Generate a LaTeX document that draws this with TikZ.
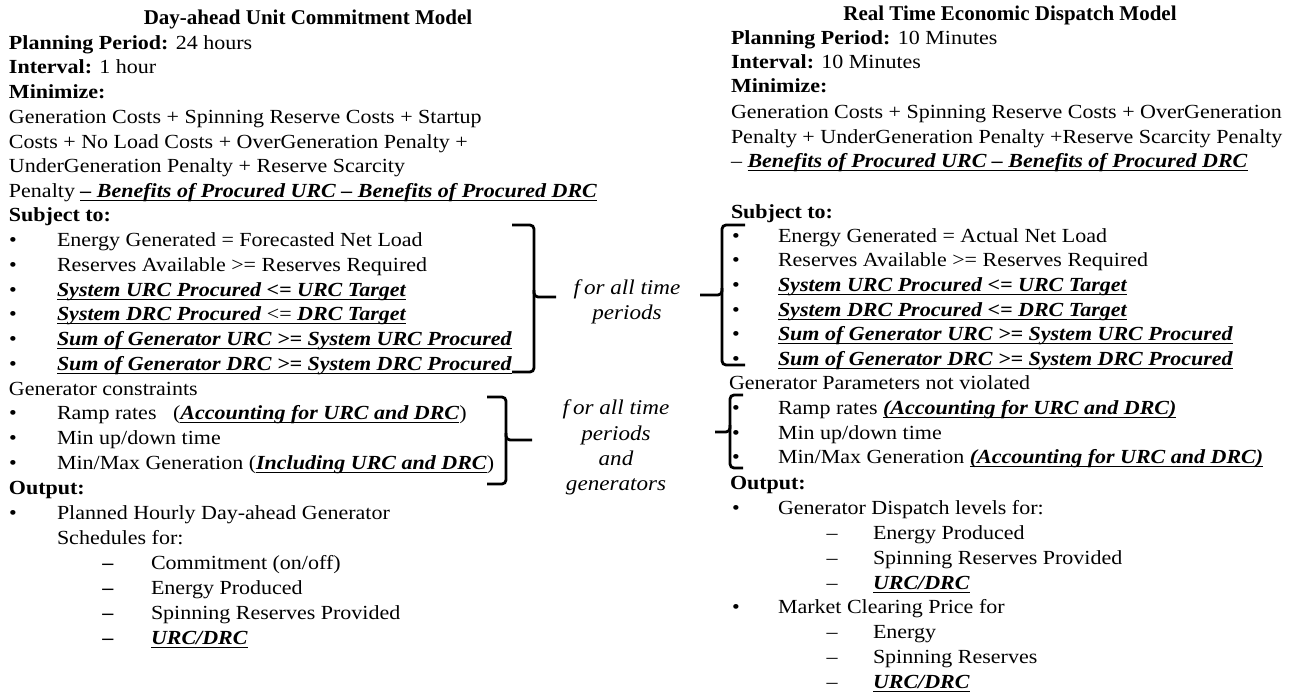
\documentclass[tikz,border=0pt]{standalone}
\usepackage{fontspec}
\setmainfont{Liberation Serif}[FakeStretch=1.1]
\newfontfamily\titlefont{Liberation Serif}
\newsavebox{\ulbox}
\newcommand{\ulx}[1]{\sbox{\ulbox}{#1}\leavevmode\hbox{\rlap{\rule[-3.8pt]{\wd\ulbox}{1.2pt}}\usebox{\ulbox}}}
\newcommand{\bi}[1]{\textbf{\textit{#1}}}
\newcommand{\bu}[1]{\ulx{\bi{#1}}}
\begin{document}
\begin{tikzpicture}[x=1pt,y=-1pt,
  every node/.style={inner sep=0pt,outer sep=0pt,yshift=-4pt},
  txt/.style={anchor=mid west,font=\fontsize{20}{24}\selectfont},
  ttl/.style={anchor=mid,font=\titlefont\bfseries\fontsize{21}{24}\selectfont},
  lbl/.style={anchor=mid,font=\fontsize{21}{24}\selectfont\itshape},
  dot/.style={anchor=mid,font=\fontsize{20}{24}\selectfont},
  brace/.style={line width=2.8pt,rounded corners=4pt}]
\useasboundingbox (0,0) rectangle (1298,693);

% ---------------- left column ----------------
\node[ttl] (lt) at (308,18) {Day-ahead Unit Commitment Model};
\node[txt] (l1) at (9,43) {\textbf{Planning Period:} 24 hours};
\node[txt] (l2) at (9,67) {\textbf{Interval:} 1 hour};
\node[txt] (l3) at (9,92) {\textbf{Minimize:}};
\node[txt] (l4) at (9,117) {Generation Costs + Spinning Reserve Costs + Startup};
\node[txt] (l5) at (9,142) {Costs + No Load Costs + OverGeneration Penalty +};
\node[txt] (l6) at (9,166) {UnderGeneration Penalty + Reserve Scarcity};
\node[txt] (l7) at (9,191) {Penalty \bu{– Benefits of Procured URC – Benefits of Procured DRC}};
\node[txt] (l8) at (9,215) {\textbf{Subject to:}};

\foreach \yy/\nm in {240/a,265/b,290/c,314/d,339/e,364/f,413/g,438/h,463/i,513/j}
  \node[dot] (lb\nm) at (13,\yy) {•};
\node[txt] (s1) at (57,240) {Energy Generated = Forecasted Net Load};
\node[txt] (s2) at (57,265) {Reserves Available >= Reserves Required};
\node[txt] (s3) at (57,290) {\bu{System URC Procured <= URC Target}};
\node[txt] (s4) at (57,314) {\ulx{\bi{System DRC Procured} <= \bi{DRC Target}}};
\node[txt] (s5) at (57,339) {\bu{Sum of Generator URC >= System URC Procured}};
\node[txt] (s6) at (57,364) {\bu{Sum of Generator DRC >= System DRC Procured}};
\node[txt] (l9) at (9,389) {Generator constraints};
\node[txt] (g1) at (57,413) {Ramp rates~~~(\bu{Accounting for URC and DRC})};
\node[txt] (g2) at (57,438) {Min up/down time};
\node[txt] (g3) at (57,463) {Min/Max Generation (\bu{Including URC and DRC})};
\node[txt] (l10) at (9,488) {\textbf{Output:}};
\node[txt] (o1) at (57,513) {Planned Hourly Day-ahead Generator};
\node[txt] (o2) at (57,538) {Schedules for:};
\foreach \yy/\nm in {563/a,588/b,613/c,638/d}
  \node[dot] (ld\nm) at (108,\yy) {\textbf{–}};
\node[txt] (o3) at (151,563) {Commitment (on/off)};
\node[txt] (o4) at (151,588) {Energy Produced};
\node[txt] (o5) at (151,613) {Spinning Reserves Provided};
\node[txt] (o6) at (151,638) {\bu{URC/DRC}};

% ---------------- middle labels ----------------
\node[lbl] (m1) at (627,288) {f\kern4pt or all time};
\node[lbl] (m2) at (627,313) {periods};
\node[lbl] (m3) at (616,408) {f\kern4pt or all time};
\node[lbl] (m4) at (616,434) {periods};
\node[lbl] (m5) at (616,459) {and};
\node[lbl] (m6) at (616,484) {generators};

% ---------------- braces ----------------
\draw[brace] (512,225) -| (534,297) -- (556,297);
\draw[brace] (534,290) |- (512,372);
\draw[brace] (487,397) -| (506,440) -- (532,440);
\draw[brace] (506,433) |- (487,484);
\draw[brace] (745,225) -| (722,295) -- (700,295);
\draw[brace] (722,288) |- (745,365);
\draw[brace] (743,395) -| (730,432) -- (715,432);
\draw[brace] (730,425) |- (743,468);

% ---------------- right column ----------------
\node[ttl] (rt) at (1010,14) {Real Time Economic Dispatch Model};
\node[txt] (r1) at (731,38) {\textbf{Planning Period:} 10 Minutes};
\node[txt] (r2) at (731,62) {\textbf{Interval:} 10 Minutes};
\node[txt] (r3) at (731,86) {\textbf{Minimize:}};
\node[txt] (r4) at (731,112) {Generation Costs + Spinning Reserve Costs + OverGeneration};
\node[txt] (r5) at (731,137) {Penalty + UnderGeneration Penalty +Reserve Scarcity Penalty};
\node[txt] (r6) at (731,161) {– \bu{Benefits of Procured URC – Benefits of Procured DRC}};
\node[txt] (r7) at (731,212) {\textbf{Subject to:}};

\foreach \yy/\nm in {236/a,260/b,285/c,310/d,334/e,359/f,408/g,433/h,457/i,508/j,607/k}
  \node[dot] (rb\nm) at (736,\yy) {•};
\node[txt] (t1) at (778,236) {Energy Generated = Actual Net Load};
\node[txt] (t2) at (778,260) {Reserves Available >= Reserves Required};
\node[txt] (t3) at (778,285) {\bu{System URC Procured <= URC Target}};
\node[txt] (t4) at (778,310) {\bu{System DRC Procured <= DRC Target}};
\node[txt] (t5) at (778,334) {\bu{Sum of Generator URC >= System URC Procured}};
\node[txt] (t6) at (778,359) {\bu{Sum of Generator DRC >= System DRC Procured}};
\node[txt] (r8) at (729,383) {Generator Parameters not violated};
\node[txt] (h1) at (778,408) {Ramp rates \bu{(Accounting for URC and DRC)}};
\node[txt] (h2) at (778,433) {Min up/down time};
\node[txt] (h3) at (778,457) {Min/Max Generation \bu{(Accounting for URC and DRC)}};
\node[txt] (r9) at (730,483) {\textbf{Output:}};
\node[txt] (p1) at (778,508) {Generator Dispatch levels for:};
\foreach \yy/\nm in {533/a,558/b,583/c,632/d,657/e,682/f}
  \node[dot] (rd\nm) at (832,\yy) {–};
\node[txt] (p2) at (873,533) {Energy Produced};
\node[txt] (p3) at (873,558) {Spinning Reserves Provided};
\node[txt] (p4) at (873,583) {\bu{URC/DRC}};
\node[txt] (p5) at (778,607) {Market Clearing Price for};
\node[txt] (p6) at (873,632) {Energy};
\node[txt] (p7) at (873,657) {Spinning Reserves};
\node[txt] (p8) at (873,682) {\bu{URC/DRC}};
\end{tikzpicture}
\end{document}
